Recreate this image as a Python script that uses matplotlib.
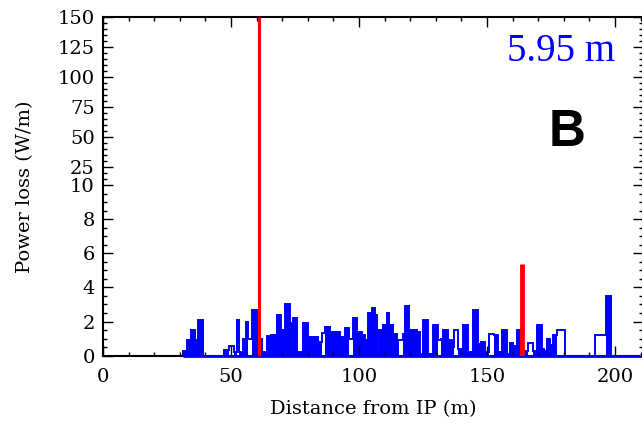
import numpy as np
import matplotlib
matplotlib.use('Agg')
import matplotlib.pyplot as plt
from matplotlib.ticker import FixedLocator, FixedFormatter

# step histogram: bin edges (m) and power loss per bin (W/m)
edges_m = [31.3, 32.8, 34.4, 35.9, 37.1, 39.0, 47.4, 49.2, 51.0, 52.3, 53.0,
           54.7, 55.8, 56.5, 58.3, 60.4, 62.0, 63.9, 65.6, 67.8, 69.5, 71.1,
           73.0, 74.3, 75.7, 78.3, 80.0, 84.1, 85.4, 86.7, 88.7, 92.6, 93.9,
           94.5, 96.2, 97.5, 99.1, 101.0, 102.3, 103.6, 105.0, 106.3, 106.9,
           107.9, 109.3, 110.8, 111.8, 113.4, 114.7, 115.7, 117.1, 118.0,
           119.6, 122.5, 123.8, 124.9, 126.8, 129.0, 130.7, 132.0, 132.9,
           134.9, 136.2, 137.2, 138.8, 140.7, 142.5, 144.6, 146.6, 147.7,
           149.2, 150.8, 152.9, 154.4, 156.0, 157.7, 159.0, 160.3, 161.6,
           162.9, 164.8, 166.1, 168.1, 169.4, 171.4, 172.4, 173.3, 174.6,
           175.9, 177.2, 180.5, 192.2, 196.3, 198.3]
power_total = [0.3, 0.9, 1.5, 0.9, 2.1, 0.0, 0.35, 0.55, 0.2, 2.1, 0.2,
               1.0, 2.0, 1.0, 2.7, 1.0, 0.2, 1.15, 1.2, 2.4, 1.5, 3.0,
               1.9, 2.2, 0.2, 1.9, 1.1, 0.8, 1.35, 1.7, 1.4, 1.1, 0.8,
               1.6, 1.0, 2.2, 1.4, 1.2, 0.9, 2.5, 2.8, 2.4, 0.1,
               1.5, 1.8, 2.5, 1.8, 1.3, 0.9, 0.9, 1.3, 2.9,
               1.5, 1.4, 0.1, 2.1, 0.1, 1.8, 0.9, 1.0, 1.5,
               0.9, 0.5, 1.5, 0.4, 1.8, 0.2, 2.7, 0.7, 0.8,
               0.2, 1.3, 1.2, 0.2, 1.5, 0.1, 0.75, 0.55, 1.5,
               0.3, 0.3, 0.75, 0.3, 1.8, 0.4, 0.3, 1.0, 0.6,
               1.2, 1.5, 0.0, 1.2, 3.5]
# bins drawn as open boxes only
hollow_bins = [7, 9, 13, 28, 34, 49, 58, 63, 71, 81, 89, 91]

# peaked losses (red)
peak_pos = [60.9, 163.8]
peak_val = [150.0, 5.4]

power_filled = [0.0 if i in hollow_bins else v for i, v in enumerate(power_total)]

K = 0.0703   # compression of the upper (10-150) part of the y axis


def fwd(y):
    y = np.asarray(y, dtype=float)
    return np.where(y <= 10, y, 10 + (y - 10) * K)


def inv(t):
    t = np.asarray(t, dtype=float)
    return np.where(t <= 10, t, 10 + (t - 10) / K)


plt.rcParams['font.family'] = 'DejaVu Serif'
fig = plt.figure(figsize=(6.42, 4.25), dpi=100)
x0, x1 = 103 / 642, 643 / 642
ax = fig.add_axes([x0, (425 - 355.7) / 425, x1 - x0, (355.7 - 17) / 425])
ax.set_yscale('function', functions=(fwd, inv))

ax.stairs(power_filled, edges_m, fill=True, color='blue', lw=0.8)
ax.stairs(power_total, edges_m, fill=False, color='blue', lw=1.4, baseline=0)
xmax = (643 - 103) / 2.56
ax.hlines(0, edges_m[0], xmax, color='blue', lw=2, zorder=5, clip_on=False)
ax.vlines(peak_pos[0], 0, peak_val[0], color='red', lw=2.2, zorder=6)
ax.vlines(peak_pos[1], 0, peak_val[1], color='red', lw=3.5, zorder=6)

ax.set_xlim(0, xmax)
ax.set_ylim(0, 150)

yt = [0, 2, 4, 6, 8, 10, 25, 50, 75, 100, 125, 150]
ax.yaxis.set_major_locator(FixedLocator(yt))
ax.yaxis.set_major_formatter(FixedFormatter([str(v) for v in yt]))
yminor = list(np.arange(0, 10, 0.5)) + list(range(15, 150, 5))
ax.yaxis.set_minor_locator(FixedLocator(yminor))
ax.set_xticks([0, 50, 100, 150, 200])
ax.set_xticks(np.arange(0, 211, 10), minor=True)

ax.tick_params(which='both', direction='in', top=True, right=True,
               labelsize=14, width=1)
ax.tick_params(axis='x', which='major', pad=9)
ax.tick_params(axis='y', which='major', pad=6)
ax.tick_params(which='major', length=7)
ax.tick_params(which='minor', length=3)
for s in ax.spines.values():
    s.set_linewidth(1.5)

ax.set_xlabel('Distance from IP (m)', fontsize=14, labelpad=10)
ax.set_ylabel('Power loss (W/m)', fontsize=14, labelpad=17)

ax.text(0.948, 0.897, '5.95 m', transform=ax.transAxes, ha='right', va='center',
        color='blue', fontsize=28, family='Liberation Serif')
ax.text(0.86, 0.66, 'B', transform=ax.transAxes, ha='center', va='center',
        color='black', fontsize=37, fontweight='bold', family='Liberation Sans')

fig.savefig('out.png', dpi=100)
